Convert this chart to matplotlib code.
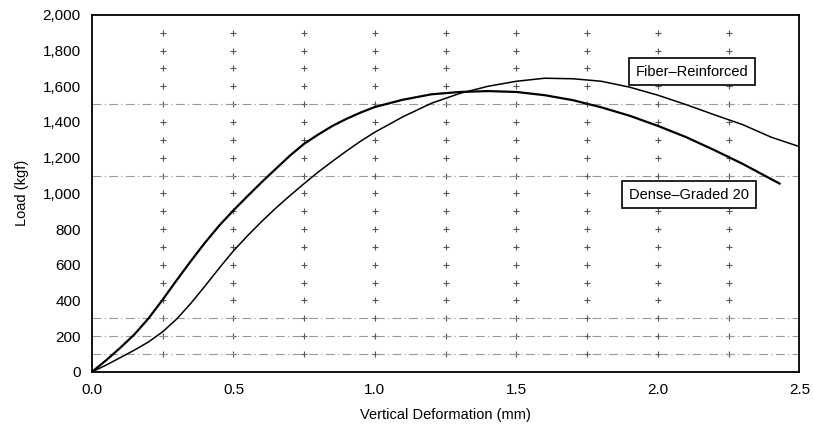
import numpy as np
import matplotlib.pyplot as plt

plt.rcParams['font.family'] = ['Liberation Sans', 'DejaVu Sans']

# Load-deformation curves
dense_x = [0, 0.05, 0.1, 0.15, 0.2, 0.25, 0.3, 0.35, 0.4, 0.45, 0.5, 0.55, 0.6, 0.65,
           0.7, 0.75, 0.8, 0.85, 0.9, 0.95, 1.0, 1.1, 1.2, 1.3, 1.4, 1.5, 1.6, 1.7,
           1.8, 1.9, 2.0, 2.1, 2.2, 2.3, 2.43]
dense_y = [0, 65, 135, 210, 300, 405, 515, 622, 725, 820, 905, 985, 1063, 1138,
           1212, 1278, 1330, 1378, 1418, 1453, 1484, 1525, 1555, 1568, 1573, 1568, 1550, 1522,
           1482, 1435, 1378, 1315, 1242, 1165, 1055]

fiber_x = [0, 0.05, 0.1, 0.15, 0.2, 0.25, 0.3, 0.35, 0.4, 0.45, 0.5, 0.55, 0.6, 0.65,
           0.7, 0.75, 0.8, 0.85, 0.9, 0.95, 1.0, 1.1, 1.2, 1.3, 1.4, 1.5, 1.6, 1.7,
           1.8, 1.9, 2.0, 2.1, 2.2, 2.3, 2.4, 2.5]
fiber_y = [0, 38, 80, 122, 168, 225, 297, 385, 482, 582, 678, 763, 843, 918,
           988, 1055, 1120, 1180, 1238, 1293, 1343, 1430, 1505, 1560, 1600, 1628, 1645, 1642,
           1628, 1595, 1550, 1497, 1440, 1385, 1315, 1262]

x_ticks = [0.0, 0.5, 1.0, 1.5, 2.0, 2.5]
y_ticks = list(range(0, 2001, 200))

# faint broken lines left over in the scan
scan_lines_y = [100, 200, 300, 1100, 1500]

fig, ax = plt.subplots(figsize=(8.14, 4.37), dpi=100)
fig.subplots_adjust(left=0.113, right=0.982, top=0.966, bottom=0.149)

# "+" grid markers
gx, gy = np.meshgrid(np.arange(0.25, 2.5, 0.25), np.arange(100, 2000, 100))
ax.plot(gx.ravel(), gy.ravel(), '+', color='#555555', ms=5, mew=0.8, zorder=1)
for yv in scan_lines_y:
    ax.axhline(yv, color='#999999', lw=0.8, ls=(0, (8, 3, 1, 3)), zorder=1)

ax.plot(dense_x, dense_y, color='black', lw=1.6, zorder=3)
ax.plot(fiber_x, fiber_y, color='black', lw=1.1, zorder=3)

box = dict(boxstyle='square,pad=0.45', fc='white', ec='black', lw=1.2)
ax.text(2.12, 1681, 'Fiber\u2013Reinforced', ha='center', va='center',
        fontsize=10.5, bbox=box, zorder=4)
ax.text(2.11, 992, 'Dense\u2013Graded 20', ha='center', va='center',
        fontsize=10.5, bbox=box, zorder=4)

ax.set_xlim(0, 2.5)
ax.set_ylim(0, 2000)
ax.set_xticks(x_ticks)
ax.set_xticklabels([f'{v:.1f}' for v in x_ticks])
ax.set_yticks(y_ticks)
ax.set_yticklabels([f'{v:,}' for v in y_ticks])
ax.tick_params(length=0, labelsize=11, pad=8)
for s in ax.spines.values():
    s.set_linewidth(1.3)

ax.set_xlabel('Vertical Deformation (mm)', fontsize=10.5, labelpad=8)
ax.set_ylabel('Load (kgf)', fontsize=10.5, labelpad=10)

fig.savefig('out.png', dpi=100)
